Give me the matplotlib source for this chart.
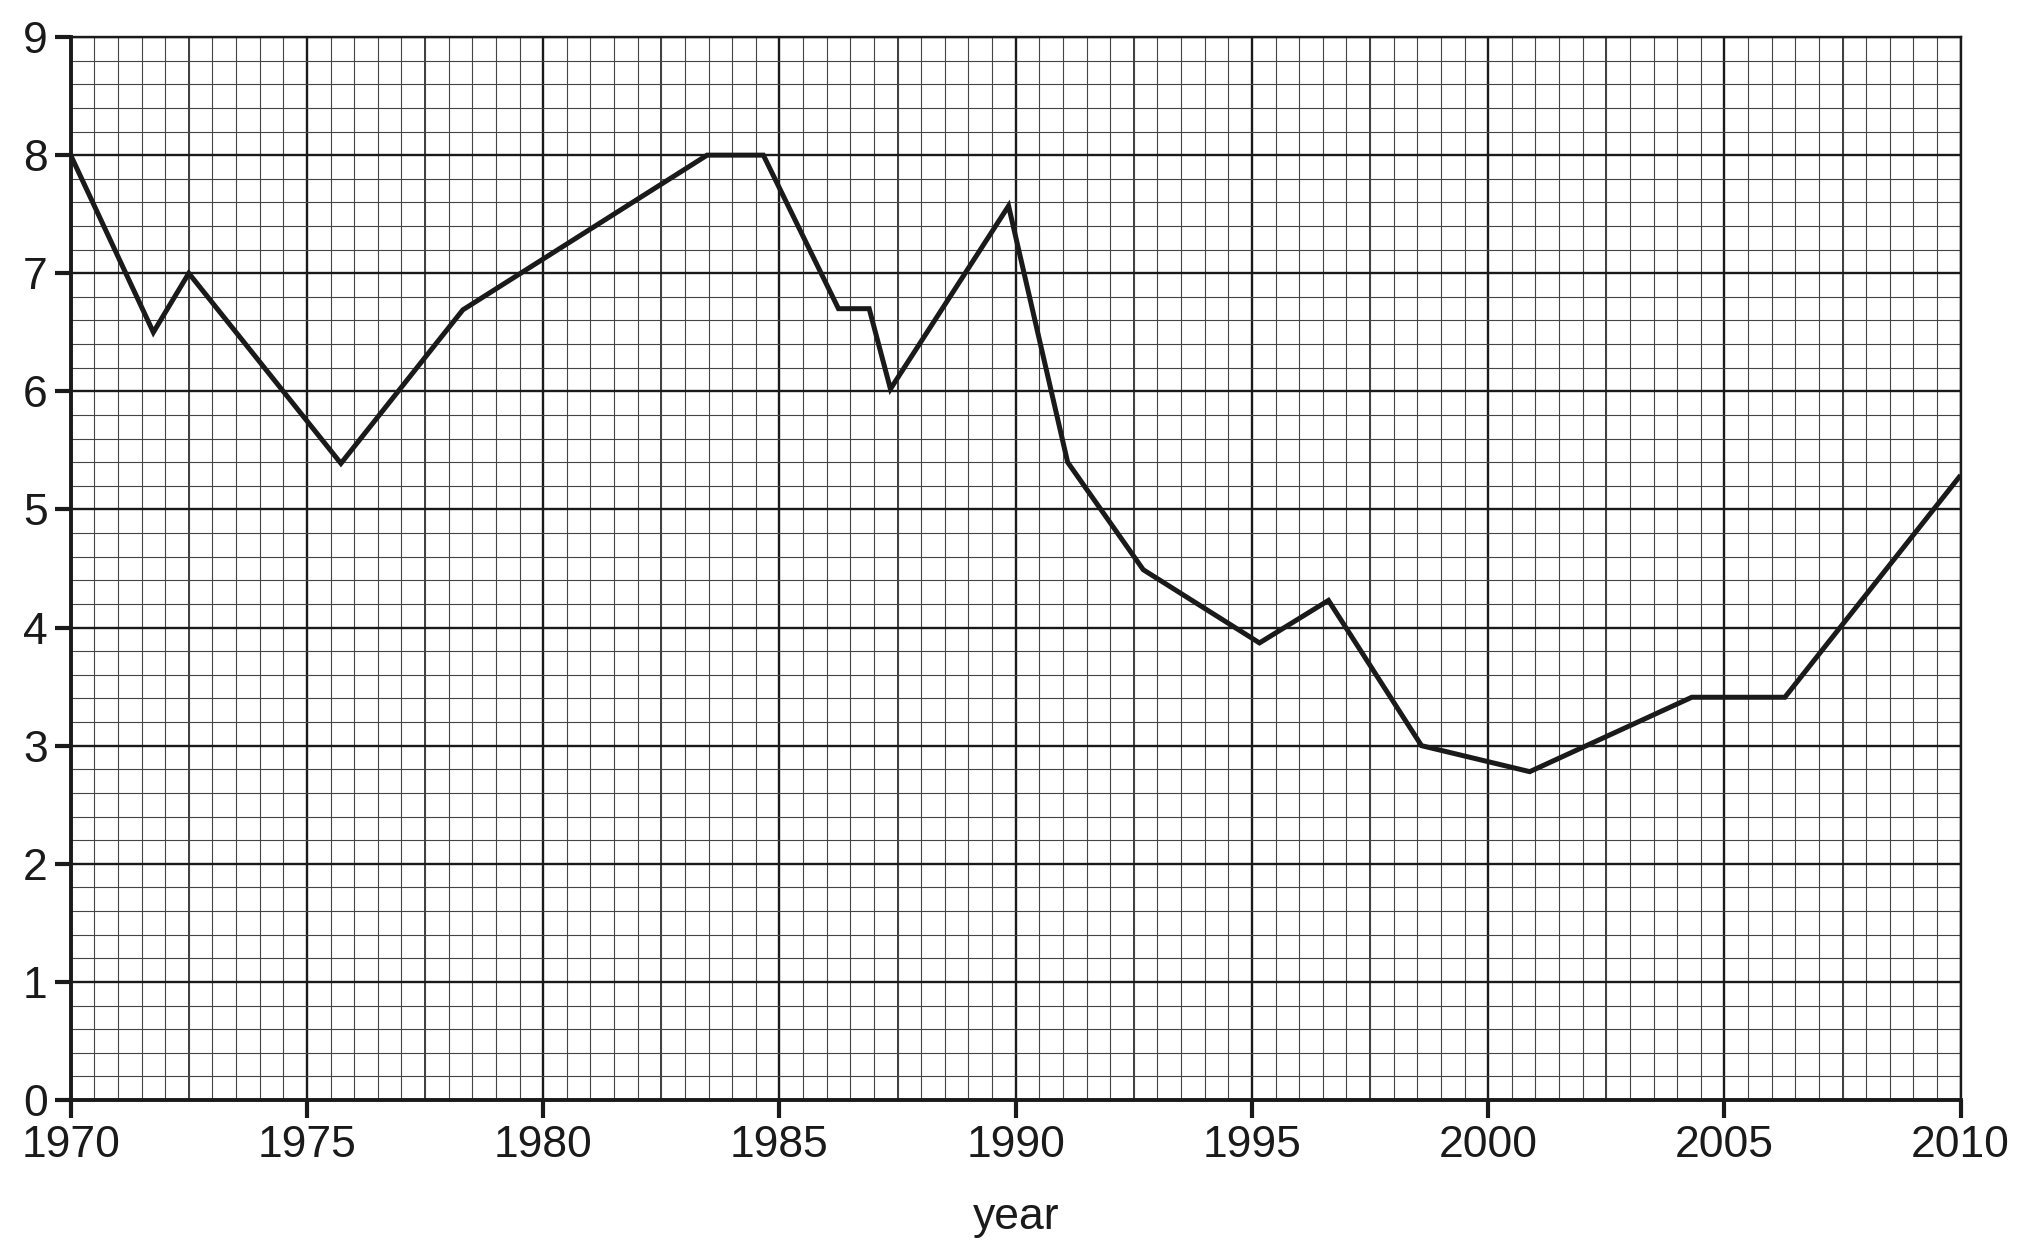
import numpy as np
import matplotlib
matplotlib.use("Agg")
import matplotlib.pyplot as plt
from matplotlib.ticker import MultipleLocator

years = [1970.0, 1971.75, 1972.5, 1975.72, 1978.3, 1983.47, 1984.66, 1986.25, 1986.9,
         1987.35, 1989.85, 1991.1, 1992.7, 1995.16, 1996.62, 1998.59, 2000.88,
         2004.31, 2006.28, 2010.0]
values = [8.0, 6.5, 7.0, 5.39, 6.69, 8.0, 8.0, 6.7, 6.7,
          6.02, 7.57, 5.4, 4.49, 3.87, 4.23, 3.0, 2.78,
          3.41, 3.41, 5.29]

x_ticks = [1970, 1975, 1980, 1985, 1990, 1995, 2000, 2005, 2010]
y_ticks = [0, 1, 2, 3, 4, 5, 6, 7, 8, 9]
x_label = "year"

plt.rcParams['font.family'] = ['Liberation Sans', 'DejaVu Sans']

fig = plt.figure(figsize=(20.19, 12.51), dpi=100)
ax = fig.add_axes([0.035, 0.1207, 0.9361, 0.8497])

ax.set_xlim(1970, 2010)
ax.set_ylim(0, 9)

ax.xaxis.set_major_locator(MultipleLocator(5))
ax.xaxis.set_minor_locator(MultipleLocator(0.5))
ax.yaxis.set_major_locator(MultipleLocator(1))
ax.yaxis.set_minor_locator(MultipleLocator(0.2))
ax.set_xticks(x_ticks)
ax.set_yticks(y_ticks)

ax.grid(which='minor', color='#444444', linewidth=0.8, zorder=0)
ax.grid(which='major', color='#1a1a1a', linewidth=1.7, zorder=0)
for xv in np.arange(1972.5, 2010, 5):
    ax.axvline(xv, color='#1a1a1a', linewidth=1.2, zorder=0.5)
ax.set_axisbelow(True)

ax.plot(years, values, color='#1a1a1a', linewidth=3.6, solid_joinstyle='miter',
        solid_capstyle='butt', zorder=3)

for s in ['left', 'bottom']:
    ax.spines[s].set_linewidth(2.8)
    ax.spines[s].set_color('#1a1a1a')
for s in ['top', 'right']:
    ax.spines[s].set_linewidth(1.7)
    ax.spines[s].set_color('#1a1a1a')

ax.tick_params(axis='x', which='major', length=13, width=3, color='#1a1a1a',
               labelsize=32, pad=5, labelcolor='#1a1a1a')
ax.tick_params(axis='y', which='major', length=11.5, width=3, color='#1a1a1a',
               labelsize=32, pad=5, labelcolor='#1a1a1a')
ax.tick_params(which='minor', length=0)

ax.set_xlabel(x_label, fontsize=32, color='#1a1a1a', labelpad=22)

fig.savefig("out.png", dpi=100, facecolor='white')
